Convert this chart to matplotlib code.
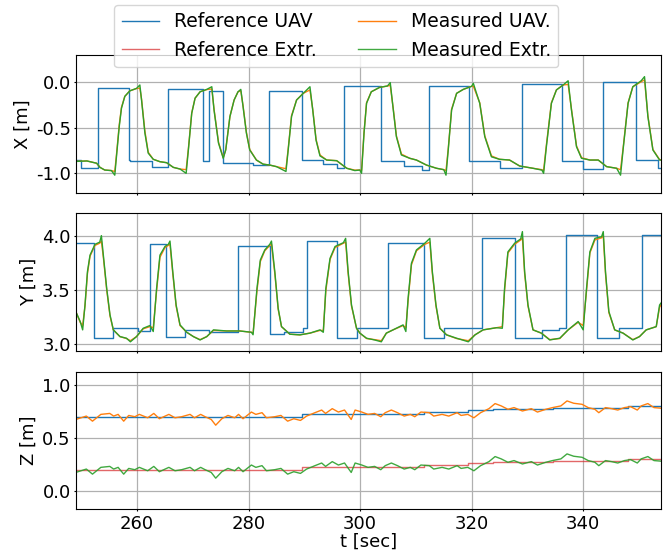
import matplotlib
matplotlib.use("Agg")
import matplotlib.pyplot as plt

plt.rcParams['font.family'] = ['DejaVu Sans']
plt.rcParams['font.size'] = 13
plt.rcParams['axes.unicode_minus'] = False

# ---------------- X panel ----------------
x_ref_t = [249.0, 249.94, 253.08, 258.55, 258.8, 262.6, 265.5, 271.75, 272.94, 275.45,
           280.8, 283.7, 289.6, 293.4, 295.8, 297.1, 303.7, 307.8, 311.15, 312.37,
           319.5, 325.05, 329.0, 336.15, 340.0, 343.6, 349.4, 353.5, 355.0]
x_ref_v = [-0.855, -0.94, -0.065, -0.855, -0.87, -0.935, -0.08, -0.866, -0.10, -0.89,
           -0.91, -0.10, -0.855, -0.90, -0.945, -0.05, -0.87, -0.925, -0.964, -0.052,
           -0.87, -0.945, -0.023, -0.87, -0.955, 0.0, -0.86, -0.946, -0.946]

x_meas_t = [249.0, 251.0, 252.75, 253.35, 254.2, 255.4, 256.0, 256.3, 256.8, 257.2, 257.8,
            258.7, 259.9, 260.5, 260.8, 261.4, 262.0, 262.9, 264.1, 265.3, 266.5, 267.7,
            268.8, 269.2, 269.8, 270.4, 271.3, 272.5, 273.4, 273.8, 274.6, 275.45, 275.9,
            276.65, 277.4, 278.1, 278.6, 279.0, 279.6, 280.2, 281.4, 282.6, 283.8, 285.0,
            286.7, 287.1, 287.7, 288.6, 289.8, 291.0, 291.5, 292.1, 292.8, 294.0, 295.8,
            297.6, 299.05, 299.95, 300.25, 300.7, 301.15, 302.0, 303.5, 304.9, 305.4,
            305.95, 306.5, 307.4, 308.9, 310.1, 311.9, 313.7, 315.0, 315.4, 315.8, 316.4,
            317.3, 318.5, 320.0, 320.3, 321.45, 322.35, 323.55, 325.0, 326.8, 328.6, 331.0,
            332.6, 332.9, 333.4, 334.3, 335.2, 336.4, 337.3, 337.9, 338.8, 339.7, 341.2,
            342.7, 344.2, 346.0, 346.7, 347.15, 348.05, 348.9, 350.4, 351.0, 351.6, 352.5,
            353.7, 355.0]
x_extr_v = [-0.87, -0.865, -0.89, -0.935, -0.964, -0.97, -1.02, -0.82, -0.49, -0.29, -0.16,
            -0.10, -0.073, -0.036, -0.20, -0.56, -0.78, -0.847, -0.873, -0.884, -0.935, -0.953,
            -1.0, -0.745, -0.345, -0.18, -0.11, -0.084, -0.055, -0.31, -0.67, -0.836, -0.745,
            -0.38, -0.20, -0.11, -0.084, -0.27, -0.56, -0.745, -0.855, -0.90, -0.91, -0.927,
            -0.98, -0.745, -0.38, -0.20, -0.127, -0.055, -0.31, -0.64, -0.81, -0.855, -0.862,
            -0.945, -0.97, -0.964, -1.0, -0.56, -0.236, -0.11, -0.062, -0.047, -0.01,
            -0.31, -0.60, -0.80, -0.836, -0.855, -0.91, -0.945, -0.96, -1.02, -0.745, -0.31,
            -0.127, -0.084, -0.05, -0.018, -0.236, -0.60, -0.82, -0.847, -0.855, -0.92, -0.945,
            -0.965, -1.0, -0.71, -0.236, -0.09, -0.036, 0.01, -0.31, -0.71, -0.836, -0.855,
            -0.855, -0.927, -0.945, -1.02, -0.745, -0.236, -0.055, 0.01, 0.055, -0.38, -0.745,
            -0.855, -0.86]
x_uav_v = [-0.87, -0.865, -0.89, -0.935, -0.964, -0.97, -0.98, -0.80, -0.47, -0.28, -0.16,
           -0.10, -0.075, -0.07, -0.19, -0.54, -0.77, -0.847, -0.873, -0.884, -0.935, -0.953,
           -0.96, -0.73, -0.34, -0.18, -0.11, -0.086, -0.08, -0.30, -0.66, -0.83, -0.74,
           -0.38, -0.20, -0.11, -0.10, -0.26, -0.55, -0.74, -0.855, -0.90, -0.91, -0.927,
           -0.95, -0.73, -0.37, -0.20, -0.127, -0.09, -0.30, -0.63, -0.80, -0.855, -0.862,
           -0.945, -0.965, -0.964, -0.97, -0.55, -0.23, -0.11, -0.062, -0.047, -0.04,
           -0.30, -0.59, -0.79, -0.836, -0.855, -0.91, -0.945, -0.96, -0.97, -0.73, -0.30,
           -0.127, -0.084, -0.05, -0.05, -0.23, -0.59, -0.81, -0.847, -0.855, -0.92, -0.945,
           -0.96, -0.97, -0.69, -0.23, -0.09, -0.036, -0.03, -0.30, -0.70, -0.83, -0.855,
           -0.855, -0.927, -0.945, -0.96, -0.73, -0.23, -0.055, 0.0, 0.02, -0.37, -0.74,
           -0.85, -0.86]

# ---------------- Y panel ----------------
y_ref_t = [249.0, 252.33, 255.74, 260.2, 262.3, 265.2, 268.6, 272.9, 278.1, 283.8, 286.3,
           289.7, 290.5, 295.9, 299.5, 305.0, 311.4, 315.1, 321.9, 327.85, 332.7, 335.7,
           337.0, 342.4, 346.4, 350.6, 355.0]
y_ref_v = [3.935, 3.053, 3.145, 3.124, 3.92, 3.068, 3.13, 3.115, 3.90, 3.09, 3.115,
           3.145, 3.95, 3.053, 3.145, 3.935, 3.053, 3.145, 3.975, 3.053, 3.13, 3.145,
           4.006, 3.053, 3.145, 4.006, 4.006]

y_meas_t = [249.0, 249.8, 250.24, 250.66, 251.1, 251.56, 252.45, 253.3, 253.6, 253.95, 254.55,
            255.14, 255.74, 256.93, 258.1, 258.8, 259.9, 261.1, 262.3, 262.9, 263.5, 264.1,
            265.0, 265.6, 265.9, 266.4, 267.0, 267.7, 268.9, 270.1, 271.3, 272.5, 273.7,
            276.05, 278.4, 280.5, 280.8, 281.5, 282.1, 282.9, 283.8, 284.1, 284.7, 285.3,
            285.9, 287.4, 289.2, 291.0, 292.8, 293.4, 293.85, 294.6, 295.5, 297.0, 297.4,
            297.85, 298.45, 299.35, 299.95, 301.15, 302.6, 303.8, 304.7, 305.9, 307.7, 308.2,
            308.6, 309.2, 310.1, 311.6, 312.5, 312.95, 313.6, 314.3, 315.5, 317.3, 319.4,
            320.6, 322.05, 324.45, 325.5, 325.9, 326.5, 327.7, 328.8, 329.1, 329.5, 330.1,
            331.0, 332.5, 334.0, 335.8, 337.3, 339.1, 340.0, 340.6, 341.2, 342.1, 343.3,
            343.6, 344.0, 344.6, 345.65, 347.15, 348.9, 350.1, 351.3, 353.1, 353.7, 355.0]
y_extr_v = [3.30, 3.207, 3.13, 3.36, 3.668, 3.82, 3.92, 3.94, 4.0, 3.82, 3.514,
            3.27, 3.13, 3.068, 3.053, 3.02, 3.068, 3.145, 3.17, 3.115, 3.514, 3.82,
            3.90, 3.92, 3.95, 3.668, 3.36, 3.176, 3.108, 3.068, 3.037, 3.068, 3.13,
            3.12, 3.12, 3.108, 3.085, 3.514, 3.775, 3.868, 3.92, 3.95, 3.668, 3.33,
            3.16, 3.09, 3.084, 3.10, 3.13, 3.108, 3.514, 3.79, 3.90, 3.935, 3.975,
            3.668, 3.36, 3.145, 3.10, 3.053, 3.037, 3.02, 3.10, 3.13, 3.176, 3.115,
            3.42, 3.745, 3.868, 3.93, 3.975, 3.668, 3.36, 3.145, 3.084, 3.053, 3.02,
            3.084, 3.13, 3.15, 3.145, 3.514, 3.85, 3.93, 3.97, 4.037, 3.668, 3.36,
            3.13, 3.10, 3.037, 3.053, 3.13, 3.207, 3.13, 3.514, 3.85, 3.975, 3.99,
            4.037, 3.668, 3.30, 3.13, 3.10, 3.037, 3.068, 3.13, 3.16, 3.36, 3.45]
y_uav_v = [3.30, 3.20, 3.17, 3.35, 3.65, 3.81, 3.91, 3.93, 3.95, 3.80, 3.50,
           3.26, 3.13, 3.068, 3.05, 3.03, 3.068, 3.14, 3.16, 3.15, 3.49, 3.80,
           3.89, 3.91, 3.92, 3.65, 3.35, 3.17, 3.108, 3.068, 3.04, 3.068, 3.125,
           3.12, 3.12, 3.108, 3.10, 3.49, 3.76, 3.86, 3.91, 3.92, 3.65, 3.32,
           3.16, 3.09, 3.084, 3.10, 3.125, 3.125, 3.49, 3.78, 3.89, 3.93, 3.94,
           3.65, 3.35, 3.145, 3.10, 3.05, 3.04, 3.03, 3.10, 3.13, 3.17, 3.15,
           3.40, 3.73, 3.86, 3.92, 3.94, 3.65, 3.35, 3.145, 3.084, 3.05, 3.03,
           3.084, 3.13, 3.15, 3.16, 3.49, 3.84, 3.92, 3.96, 3.98, 3.65, 3.35,
           3.13, 3.10, 3.04, 3.05, 3.13, 3.20, 3.17, 3.49, 3.84, 3.96, 3.98,
           4.0, 3.65, 3.29, 3.13, 3.10, 3.04, 3.068, 3.13, 3.16, 3.34, 3.44]

# ---------------- Z panel ----------------
z_ref_t = [249.0, 289.5, 311.5, 319.3, 323.8, 334.5, 348.1, 355.0]
z_ref_uav_v = [0.70, 0.73, 0.745, 0.76, 0.77, 0.785, 0.80, 0.80]
z_ref_extr_v = [0.20, 0.23, 0.245, 0.26, 0.27, 0.285, 0.30, 0.30]

z_meas_t = [249.0, 250.9, 252.0, 253.5, 255.1, 255.8, 256.6, 257.6, 258.5, 259.6,
            260.4, 261.9, 263.0, 264.0, 265.7, 266.8, 268.0, 269.5, 270.3, 271.4,
            272.2, 273.3, 274.1, 275.2, 276.3, 277.5, 278.2, 279.0, 280.5, 281.3,
            282.4, 283.2, 284.7, 285.8, 287.0, 288.1, 289.3, 290.4, 291.9, 293.1,
            293.8, 295.0, 296.1, 297.2, 298.4, 299.1, 300.3, 301.4, 302.6, 303.7,
            304.5, 305.6, 306.7, 307.9, 309.0, 309.8, 310.9, 312.4, 313.2, 314.7,
            315.9, 317.4, 318.1, 319.3, 320.4, 321.6, 323.1, 324.2, 325.3, 326.5,
            327.6, 329.1, 330.7, 331.8, 333.3, 334.5, 336.0, 337.1, 338.3, 339.8,
            340.9, 342.1, 342.8, 344.0, 345.1, 346.2, 347.4, 348.5, 349.7, 350.4,
            351.6, 352.7, 355.0]
z_uav_v = [.675, .707, .659, .723, .732, .707, .723, .659, .713, .701,
           .723, .691, .732, .682, .723, .691, .701, .723, .691, .723,
           .701, .675, .621, .682, .713, .691, .723, .682, .745, .723,
           .739, .691, .701, .713, .659, .682, .666, .707, .739, .764,
           .732, .777, .745, .764, .675, .764, .745, .723, .732, .701,
           .739, .764, .739, .707, .723, .701, .745, .739, .707, .723,
           .707, .739, .713, .723, .691, .739, .777, .825, .803, .771,
           .787, .755, .777, .745, .771, .787, .803, .850, .828, .818,
           .787, .771, .739, .787, .777, .764, .787, .796, .764, .803,
           .825, .787, .777]
z_extr_v = [.175, .207, .159, .223, .232, .207, .223, .159, .213, .201,
            .223, .191, .232, .182, .223, .191, .201, .223, .191, .223,
            .201, .175, .121, .182, .213, .191, .223, .182, .245, .223,
            .239, .191, .201, .213, .159, .182, .166, .207, .239, .264,
            .232, .277, .245, .264, .175, .264, .245, .223, .232, .201,
            .239, .264, .239, .207, .223, .201, .245, .239, .207, .223,
            .207, .239, .213, .223, .191, .239, .277, .325, .303, .271,
            .287, .255, .277, .245, .271, .287, .303, .350, .328, .318,
            .287, .271, .239, .287, .277, .264, .287, .296, .264, .303,
            .325, .287, .277]

x_ticks = [260, 280, 300, 320, 340]
labels = ["Reference UAV", "Reference Extr.", "Measured UAV.", "Measured Extr."]

C_REF = "#1f77b4"
C_REFX = "#d62728"
C_MEAS = "#ff7f0e"
C_MEASX = "#2ca02c"

W, H = 666, 554
fig = plt.figure(figsize=(W / 100, H / 100), dpi=100)

def rect(l, t, r, b):
    return [l / W, 1 - b / H, (r - l) / W, (b - t) / H]

axX = fig.add_axes(rect(76.3, 55.3, 660.7, 193.3))
axY = fig.add_axes(rect(76.3, 213, 660.7, 351), sharex=axX)
axZ = fig.add_axes(rect(76.3, 372, 660.7, 509), sharex=axX)

lw = 1.0
# X
axX.step(x_ref_t, x_ref_v, where='post', color=C_REF, lw=lw)
axX.plot(x_meas_t, x_uav_v, color=C_MEAS, lw=lw)
axX.plot(x_meas_t, x_extr_v, color=C_MEASX, lw=lw)
axX.set_ylim(-1.218, 0.288)
axX.set_yticks([-1.0, -0.5, 0.0])
axX.set_ylabel("X [m]", labelpad=3)

# Y
axY.step(y_ref_t, y_ref_v, where='post', color=C_REF, lw=lw)
axY.plot(y_meas_t, y_uav_v, color=C_MEAS, lw=lw)
axY.plot(y_meas_t, y_extr_v, color=C_MEASX, lw=lw)
axY.set_ylim(2.935, 4.209)
axY.set_yticks([3.0, 3.5, 4.0])
axY.set_ylabel("Y [m]", labelpad=3)

# Z
h1, = axZ.step(z_ref_t, z_ref_uav_v, where='post', color=C_REF, lw=lw)
h2, = axZ.step(z_ref_t, z_ref_extr_v, where='post', color=C_REFX, lw=lw, alpha=0.7)
h3, = axZ.plot(z_meas_t, z_uav_v, color=C_MEAS, lw=lw)
h4, = axZ.plot(z_meas_t, z_extr_v, color=C_MEASX, lw=lw, alpha=0.9)
axZ.set_ylim(-0.17, 1.123)
axZ.set_yticks([0.0, 0.5, 1.0])
axZ.set_ylabel("Z [m]", labelpad=3)
axZ.set_xlabel("t [sec]", labelpad=0)

for ax in (axX, axY, axZ):
    ax.grid(True, color="#b0b0b0", lw=0.9)
    ax.set_axisbelow(True)
    ax.set_xlim(249.1, 353.9)
    ax.set_xticks(x_ticks)
    ax.tick_params(length=1.5, pad=2.5)
for ax in (axX, axY):
    ax.tick_params(labelbottom=False)

fig.legend([h1, h2, h3, h4], labels, loc='upper center', ncol=2,
           bbox_to_anchor=(0.505, 1.008), fontsize=13.5, columnspacing=2.2)

fig.savefig("out.png", dpi=100)
